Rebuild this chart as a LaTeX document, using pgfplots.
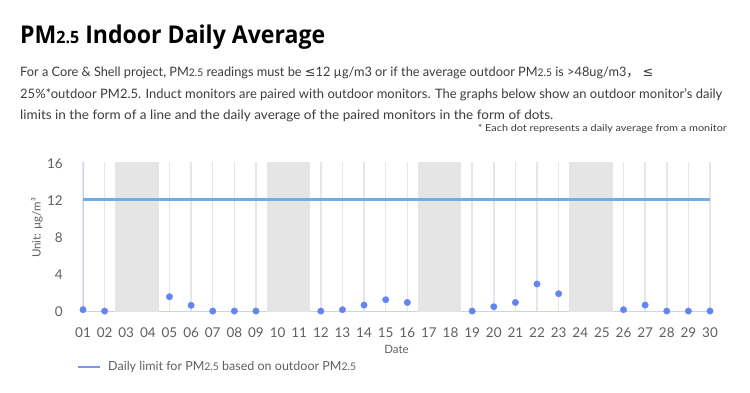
\documentclass[border=0pt]{standalone}
\usepackage{fontspec}
\usepackage{graphicx}
\usepackage{pgfplots}
\pgfplotsset{compat=1.18}
\setmainfont{Lato}
\newfontfamily\titlefont{Open Sans}
\newfontfamily\symfont{DejaVu Sans}
\newfontfamily\cjk{Noto Sans CJK SC}
\definecolor{dotc}{RGB}{98,132,245}
\definecolor{limc}{RGB}{110,174,232}
\definecolor{legc}{RGB}{125,150,235}
\definecolor{gridc}{RGB}{230,230,230}
\definecolor{bandc}{RGB}{229,229,229}
\definecolor{axc}{RGB}{198,212,242}
\definecolor{tickc}{RGB}{95,95,95}
\definecolor{bodyc}{RGB}{60,60,60}
\newcommand\sm[1]{{\fontsize{10.5bp}{12bp}\selectfont #1}}
\begin{document}
\begin{tikzpicture}
\path[use as bounding box] (0,0) rectangle (750bp,-393bp);
% title and description
\node[anchor=base west, inner sep=0] at (20bp,-43bp) {\resizebox{305bp}{\height}{\titlefont\bfseries\fontsize{24.5bp}{28bp}\selectfont PM{\fontsize{17bp}{20bp}\selectfont 2.5} Indoor Daily Average}};
\node[anchor=base west, inner sep=0, text=bodyc] at (20bp,-76bp) {\resizebox{633bp}{\height}{\fontsize{13bp}{15bp}\selectfont For a Core \& Shell project, PM\sm{2.5} readings must be {\symfont ≤}12 µg/m3 or if the average outdoor PM\sm{2.5} is >48ug/m3{\cjk ，} {\symfont ≤}}};
\node[anchor=base west, inner sep=0, text=bodyc] at (20bp,-98bp) {\resizebox{702bp}{\height}{\fontsize{13bp}{15bp}\selectfont 25\%*outdoor PM2.5. Induct monitors are paired with outdoor monitors. The graphs below show an outdoor monitor’s daily}};
\node[anchor=base west, inner sep=0, text=bodyc] at (20bp,-119bp) {\resizebox{533bp}{\height}{\fontsize{13bp}{15bp}\selectfont limits in the form of a line and the daily average of the paired monitors in the form of dots.}};
\node[anchor=base east, inner sep=0, text=bodyc] at (727bp,-131bp) {\resizebox{249bp}{\height}{\fontsize{9.5bp}{11bp}\selectfont * Each dot represents a daily average from a monitor}};
\begin{axis}[
  at={(83bp,-311.7bp)}, anchor=south west,
  scale only axis, width=627bp, height=149.5bp,
  xmin=1, xmax=30, ymin=0, ymax=16.2,
  axis x line*=bottom, axis y line*=left,
  x axis line style={draw=axc, line width=1bp, -},
  y axis line style={draw=axc, line width=1bp, -},
  xtick={1,...,30},
  xticklabels={01,02,03,04,05,06,07,08,09,10,11,12,13,14,15,16,17,18,19,20,21,22,23,24,25,26,27,28,29,30},
  ytick={0,4,8,12,16},
  major tick length=0,
  xmajorgrids, grid style={draw=gridc, line width=1.5bp},
  /pgf/number format/assume math mode=true,
  tick label style={font=\fontsize{13.5bp}{16bp}\selectfont, text=tickc},
  xticklabel style={anchor=base, inner sep=0, yshift=-25.5bp},
  yticklabel style={anchor=east, inner sep=0, xshift=-20bp},
  xlabel={Date},
  every axis x label/.style={at={(axis description cs:0.5,0)}, anchor=center, yshift=-37.5bp, font=\fontsize{11.5bp}{14bp}\selectfont, text=tickc},
  ylabel={Unit: µg/m³},
  every axis y label/.style={at={(axis description cs:-0.0734,0.56)}, anchor=center, rotate=90, font=\fontsize{11.5bp}{14bp}\selectfont, text=tickc},
  clip=false,
]
\addplot[fill=bandc, draw=none] coordinates {(2.5,0) (4.5,0) (4.5,16.2) (2.5,16.2)} -- cycle;
\addplot[fill=bandc, draw=none] coordinates {(9.5,0) (11.5,0) (11.5,16.2) (9.5,16.2)} -- cycle;
\addplot[fill=bandc, draw=none] coordinates {(16.5,0) (18.5,0) (18.5,16.2) (16.5,16.2)} -- cycle;
\addplot[fill=bandc, draw=none] coordinates {(23.5,0) (25.5,0) (25.5,16.2) (23.5,16.2)} -- cycle;
\addplot[limc, line width=3bp] coordinates {(1,12.2) (30,12.2)};
\addplot[only marks, mark=*, mark size=3.2bp, color=dotc] coordinates {
(1,0.22) (2,0.07) (5,1.62) (6,0.69) (7,0.07) (8,0.07) (9,0.07)
(12,0.07) (13,0.22) (14,0.72) (15,1.3) (16,1.0)
(19,0.07) (20,0.54) (21,1.0) (22,3.0) (23,1.95)
(26,0.22) (27,0.72) (28,0.07) (29,0.07) (30,0.07)};
\end{axis}
% legend
\draw[legc, line width=1.4bp] (78bp,-367bp) -- (100bp,-367bp);
\node[anchor=west, inner sep=0, text=tickc] at (108bp,-367bp) {\fontsize{12.5bp}{15bp}\selectfont Daily limit for PM\sm{2.5} based on outdoor PM\sm{2.5}};
\end{tikzpicture}
\end{document}
